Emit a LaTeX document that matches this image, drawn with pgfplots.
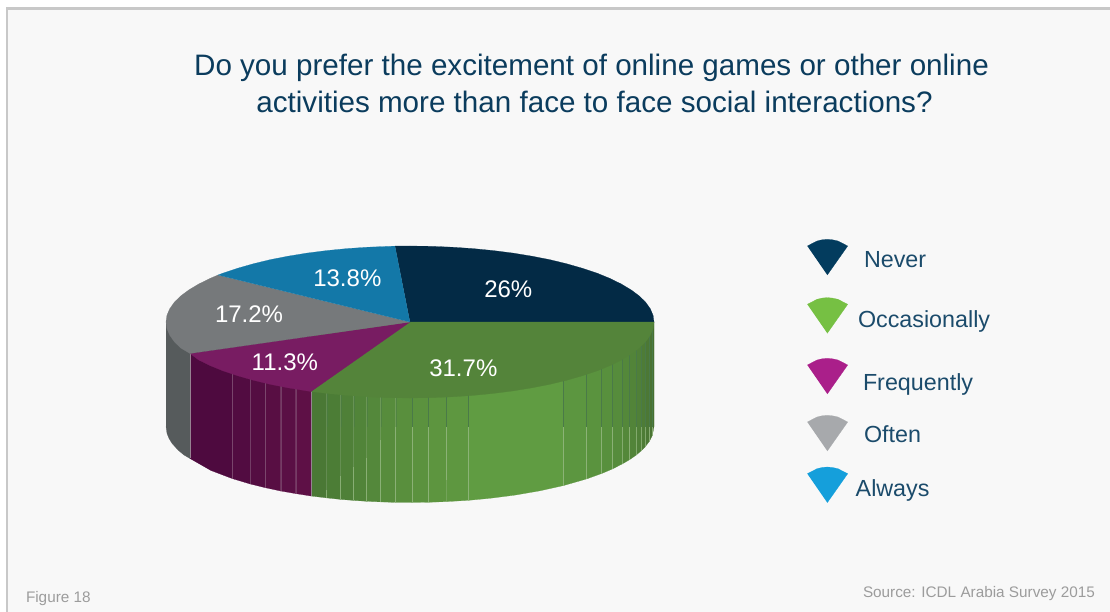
\documentclass[border=0pt]{standalone}
\usepackage{pgfplots}
\usepackage{fontspec}
\setmainfont{Liberation Sans}
\pgfplotsset{compat=1.18}
\newcommand{\hc}[2]{\definecolor{#1}{HTML}{#2}}
\hc{bgc}{F8F8F8}\hc{frm}{C8C8C8}
\hc{navy}{032A45}\hc{gtop}{54843A}\hc{ptop}{781C62}\hc{gytop}{76797B}\hc{btop}{1378A8}
\hc{ttl}{0B3C5D}\hc{leg}{1B4B6B}\hc{src}{9C9C9C}
\newcommand{\facet}[2]{\definecolor{c#1}{HTML}{#1}\addplot[fill=c#1,draw=c#1,line width=0.2pt] coordinates {#2};}
\newcommand{\poly}[2]{\addplot[fill=#1,draw=#1,line width=0.2pt] coordinates {#2};}
\newcommand{\sz}[1]{\fontsize{#1}{#1}\selectfont}
\tikzset{lbl/.style={anchor=base west,inner sep=0pt,outer sep=0pt}}
\begin{document}
\begin{tikzpicture}
\begin{axis}[scale only axis,width=1110pt,height=612pt,xmin=0,xmax=1110,ymin=0,ymax=612,y dir=reverse,hide axis,clip=true]
% frame
\addplot[fill=white,draw=none] coordinates {(0,0)(1110,0)(1110,612)(0,612)};
\addplot[fill=frm,draw=none] coordinates {(5.5,7.5)(1110,7.5)(1110,612)(5.5,612)};
\addplot[fill=bgc,draw=none] coordinates {(8.3,10)(1110,10)(1110,612)(8.3,612)};
% grey side
\facet{565B5C}{(166,322)(190,322)(190,458.5)(184,455)(178,450)(172,443.3)(169,438.4)(167,433.4)(166,426.5)}
% purple side
\facet{4E0A3F}{(190,322)(232.3,322)(232.3,478.6)(211,470.5)(190,458.5)}
\facet{520C41}{(232.3,322)(250,322)(250,483.9)(232.3,478.6)}
\facet{540D42}{(250,322)(265.3,322)(265.3,487.7)(250,483.9)}
\facet{580E43}{(265.3,322)(280.7,322)(280.7,491)(265.3,487.7)}
\facet{5A0F45}{(280.7,322)(295.7,322)(295.7,493.6)(280.7,491)}
\facet{5E1046}{(295.7,322)(311,322)(311,496)(295.7,493.6)}
% green side
\facet{4A7835}{(311,322)(326.7,322)(326.7,497.9)(311,496)}
\facet{4C7D36}{(326.7,322)(340.7,322)(340.7,499.4)(326.7,497.9)}
\facet{4F8038}{(340.7,322)(353.7,322)(353.7,500.4)(340.7,499.4)}
\facet{518439}{(353.7,322)(366.7,322)(366.7,501.3)(353.7,500.4)}
\facet{54883B}{(366.7,322)(380.7,322)(380.7,501.9)(366.7,501.3)}
\facet{578C3C}{(380.7,322)(395.7,322)(395.7,502.4)(380.7,501.9)}
\facet{598F3D}{(395.7,322)(412.3,322)(412.3,502.5)(395.7,502.4)}
\facet{5B923E}{(412.3,322)(428.3,322)(428.3,502.3)(412.3,502.5)}
\facet{5D953F}{(428.3,322)(446.7,322)(446.7,501.6)(428.3,502.3)}
\facet{5E9740}{(446.7,322)(468.7,322)(468.7,500.3)(446.7,501.6)}
\facet{609C42}{(468.7,322)(563.3,322)(563.3,485.6)(540,490.8)(515,495.1)(490,498.3)(468.7,500.3)}
\facet{5C9640}{(563.3,322)(586.7,322)(586.7,478.9)(563.3,485.6)}
\facet{5A933E}{(586.7,322)(601.7,322)(601.7,473.5)(586.7,478.9)}
\facet{58903D}{(601.7,322)(612.3,322)(612.3,469)(601.7,473.5)}
\facet{568C3C}{(612.3,322)(622,322)(622,464.1)(612.3,469)}
\facet{54883A}{(622,322)(629.7,322)(629.7,459.6)(622,464.1)}
\facet{528439}{(629.7,322)(636,322)(636,455.2)(629.7,459.6)}
\facet{508038}{(636,322)(641,322)(641,451)(636,455.2)}
\facet{4E7C36}{(641,322)(645,322)(645,447)(641,451)}
\facet{4C7835}{(645,322)(649.3,322)(649.3,441.4)(645,447)}
\facet{4A7433}{(649.3,322)(652.3,322)(652.3,435.5)(649.3,441.4)}
\facet{47702F}{(652.3,322)(654,322)(654,426.5)(652.3,435.5)}
% facet seams: dark upper parts, light lower parts
\addplot[unbounded coords=jump,draw={rgb,255:red,74;green,122;blue,72},line width=0.4pt,draw opacity=0.5] coordinates {
(326.7,322)(326.7,427)(340.7,nan)(340.7,322)(340.7,427)(353.7,nan)(353.7,322)(353.7,427)(366.7,nan)(366.7,322)(366.7,427)(380.7,nan)(380.7,322)(380.7,427)(395.7,nan)(395.7,322)(395.7,427)};
\addplot[unbounded coords=jump,draw={rgb,255:red,74;green,122;blue,72},line width=0.45pt] coordinates {
(412.3,322)(412.3,427)(428.3,nan)(428.3,322)(428.3,427)(446.7,nan)(446.7,322)(446.7,427)(468.7,nan)(468.7,322)(468.7,427)(563.3,nan)(563.3,322)(563.3,427)(586.7,nan)(586.7,322)(586.7,427)(601.7,nan)(601.7,322)(601.7,427)(612.3,nan)(612.3,322)(612.3,427)(622,nan)(622,322)(622,427)(629.7,nan)(629.7,322)(629.7,427)(636,nan)(636,322)(636,427)(641,nan)(641,322)(641,427)(645,nan)(645,322)(645,427)(649.3,nan)(649.3,322)(649.3,427)(652.3,nan)(652.3,322)(652.3,427)};
\addplot[unbounded coords=jump,draw={rgb,255:red,148;green,184;blue,128},line width=0.45pt,draw opacity=0.75] coordinates {
(326.7,490)(326.7,497.9)(340.7,nan)(340.7,476)(340.7,499.4)(353.7,nan)(353.7,467)(353.7,500.4)(366.7,nan)(366.7,458)(366.7,501.3)(380.7,nan)(380.7,440)(380.7,501.9)(395.7,nan)(395.7,427)(395.7,502.4)(412.3,nan)(412.3,427)(412.3,502.5)(428.3,nan)(428.3,427)(428.3,502.3)(446.7,nan)(446.7,427)(446.7,480)(468.7,nan)(468.7,427)(468.7,500.3)(563.3,nan)(563.3,427)(563.3,485.6)(586.7,nan)(586.7,427)(586.7,478.9)(601.7,nan)(601.7,427)(601.7,473.5)(612.3,nan)(612.3,427)(612.3,469)(622,nan)(622,427)(622,464.1)(629.7,nan)(629.7,427)(629.7,459.6)(636,nan)(636,427)(636,455.2)(641,nan)(641,427)(641,451)(645,nan)(645,427)(645,447)(649.3,nan)(649.3,427)(649.3,441.4)(652.3,nan)(652.3,427)(652.3,435.5)};
\addplot[unbounded coords=jump,draw={rgb,255:red,128;green,80;blue,116},line width=0.4pt,draw opacity=0.7] coordinates {
(232.3,322)(232.3,478.6)(250,nan)(250,322)(250,483.9)(265.3,nan)(265.3,322)(265.3,487.7)(280.7,nan)(280.7,322)(280.7,491)(295.7,nan)(295.7,322)(295.7,493.6)};
\addplot[draw={rgb,255:red,150;green,130;blue,145},line width=0.4pt] coordinates {(190,353)(190,458)};
\addplot[draw={rgb,255:red,150;green,130;blue,145},line width=0.4pt] coordinates {(311,391)(311,496)};
% top faces
\poly{navy}{(410,322)(395,246.1)(410,246)(431.3,246.3)(452.4,247.2)(473.1,248.6)(493.4,250.6)(513.1,253.1)(532,256.2)(549.9,259.7)(566.8,263.8)(582.5,268.3)(596.9,273.1)(609.9,278.4)(621.3,284)(631.1,289.9)(639.3,296)(645.7,302.3)(650.3,308.8)(653.1,315.4)(654,322)}
\poly{gtop}{(410,322)(654,322)(653.1,328.6)(650.3,335.2)(645.7,341.7)(639.3,348)(631.1,354.1)(621.3,360)(609.9,365.6)(596.9,370.9)(582.5,375.7)(566.8,380.2)(549.9,384.3)(532,387.8)(513.1,390.9)(493.4,393.4)(473.1,395.4)(452.4,396.8)(431.3,397.7)(410,398)(388.7,397.7)(367.6,396.8)(346.9,395.4)(326.6,393.4)(311,391.5)}
\poly{ptop}{(410,322)(311,391.5)(306.9,390.9)(288,387.8)(270.1,384.3)(253.2,380.2)(237.5,375.7)(223.1,370.9)(210.1,365.6)(198.7,360)(190,353.5)}
\poly{gytop}{(410,322)(190,353.5)(180.7,348)(174.3,341.7)(169.7,335.2)(166.9,328.6)(166,322)(166.9,315.4)(169.7,308.8)(174.3,302.3)(180.7,296)(188.9,289.9)(198.7,284)(210.1,278.4)(218,275)}
\poly{btop}{(410,322)(218,275)(223.1,273.1)(237.5,268.3)(253.2,263.8)(270.1,259.7)(288,256.2)(306.9,253.1)(326.6,250.6)(346.9,248.6)(367.6,247.2)(395,246.1)}
% legend fans
\definecolor{l1}{HTML}{033C5E}\definecolor{l2}{HTML}{76C043}\definecolor{l3}{HTML}{AA1F8A}\definecolor{l4}{HTML}{A7A9AC}\definecolor{l5}{HTML}{159FDB}
\poly{l1}{(807.3,246)(812,243.6)(817,241)(822,239.8)(827.3,239.3)(832.5,239.8)(838,241)(843,243.6)(847.7,246)(827.3,275)}
\poly{l2}{(807.3,304.3)(812,301.9)(817,299.3)(822,298.1)(827.3,297.6)(832.5,298.1)(838,299.3)(843,301.9)(847.7,304.3)(827.3,333.3)}
\poly{l3}{(807.3,365)(812,362.6)(817,360)(822,358.8)(827.3,358.3)(832.5,358.8)(838,360)(843,362.6)(847.7,365)(827.3,394)}
\poly{l4}{(807.3,422)(812,419.6)(817,417)(822,415.8)(827.3,415.3)(832.5,415.8)(838,417)(843,419.6)(847.7,422)(827.3,451)}
\poly{l5}{(807.3,473.7)(812,471.3)(817,468.7)(822,467.5)(827.3,467)(832.5,467.5)(838,468.7)(843,471.3)(847.7,473.7)(827.3,502.7)}
% texts
\node[anchor=base,inner sep=0pt,text=ttl] at (axis cs:591.5,76) {\sz{29.6}Do you prefer the excitement of online games or other online};
\node[anchor=base,inner sep=0pt,text=ttl] at (axis cs:594.5,113) {\sz{29.6}activities more than face to face social interactions?};
\node[lbl,text=white] at (axis cs:484.3,297.3) {\sz{24}26\%};
\node[lbl,text=white] at (axis cs:429.3,376.7) {\sz{24}31.7\%};
\node[lbl,text=white] at (axis cs:251.7,370) {\sz{24}11.3\%};
\node[lbl,text=white] at (axis cs:215,322.3) {\sz{24}17.2\%};
\node[lbl,text=white] at (axis cs:313.3,286) {\sz{24}13.8\%};
\node[lbl,text=leg] at (axis cs:864,267.3) {\sz{23.3}Never};
\node[lbl,text=leg] at (axis cs:858,327.3) {\sz{23.3}Occasionally};
\node[lbl,text=leg] at (axis cs:863,390) {\sz{23.3}Frequently};
\node[lbl,text=leg] at (axis cs:864,442.3) {\sz{23.3}Often};
\node[lbl,text=leg] at (axis cs:855.7,496.5) {\sz{23.3}Always};
\node[lbl,text=src] at (axis cs:26,602.7) {\sz{15.3}Figure 18};
\node[lbl,text=src] at (axis cs:863,597.3) {\sz{15.3}Source: ICDL Arabia Survey 2015};
\end{axis}
\end{tikzpicture}
\end{document}
